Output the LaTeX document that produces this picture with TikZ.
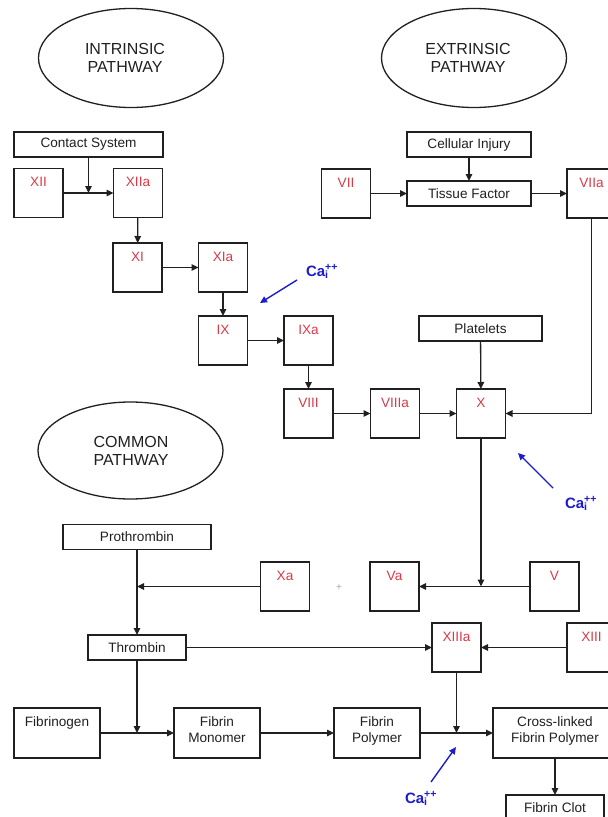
\documentclass[tikz,border=0pt]{standalone}
\usepackage{fontspec}
\setmainfont{Liberation Sans}
\usetikzlibrary{arrows.meta,shapes.geometric}
\definecolor{facred}{RGB}{218,58,72}
\definecolor{cablue}{RGB}{28,28,205}
\definecolor{ink}{RGB}{32,32,32}
\begin{document}
\begin{tikzpicture}[x=1pt,y=-1pt,
  every node/.style={inner sep=0pt,outer sep=0pt},
  boxfont/.style={font=\fontsize{13.6}{15.5}\selectfont},
  box/.style={draw=ink,line width=1.3pt,rectangle,boxfont,text=ink},
  bar/.style={box,minimum height=25pt,minimum width=#1},
  toplab/.style={anchor=north,yshift=-9pt,boxfont,align=center},
  factor/.style={box,minimum width=49pt,minimum height=49pt,
    label={[toplab,text=facred]north:#1}},
  tbox/.style={box,minimum width=86pt,minimum height=50pt,
    label={[toplab,text=ink]north:#1}},
  path/.style={draw=ink,ellipse,line width=1.3pt,minimum width=185pt,minimum height=99pt},
  pathtxt/.style={font=\fontsize{16}{18.5}\selectfont,align=center,text=ink},
  conn/.style={draw=ink,line width=1.3pt,-{Triangle[length=7pt,width=6.5pt]}},
  calbl/.style={font=\fontsize{15}{17}\selectfont\bfseries,text=cablue,anchor=base west},
  caarrow/.style={draw=cablue,line width=1.4pt,-{Triangle[length=7pt,width=6.5pt]}}
]
\fill[white] (0,0) rectangle (608,817);
\useasboundingbox (0,0) rectangle (608,817);

% pathway headings
\node[path] (intr) at (131,58) {};
\node[pathtxt] (intrtxt) at (125,58) {INTRINSIC\\PATHWAY};
\node[path] (extr) at (474,58) {};
\node[pathtxt] (extrtxt) at (468,58) {EXTRINSIC\\PATHWAY};
\node[path,minimum height=97pt] (comm) at (130.5,450.5) {};
\node[pathtxt] (commtxt) at (131,451) {COMMON\\PATHWAY};

% intrinsic pathway
\node[bar=149pt] (contact) at (88.5,144.5) {Contact System};
\node[factor=XII] (xii) at (38.5,193) {};
\node[factor=XIIa] (xiia) at (138,193) {};
\node[factor=XI] (xi) at (137.5,267.5) {};
\node[factor=XIa] (xia) at (223,267.5) {};
\node[factor=IX] (ix) at (223,340.5) {};
\node[factor=IXa] (ixa) at (308.5,340.5) {};
\node[factor=VIII] (viii) at (308.5,413.5) {};
\node[factor=VIIIa] (viiia) at (395,413.5) {};
\node[factor=X] (x) at (481,413.5) {};
\node[bar=123pt] (platelets) at (480.5,328.5) {Platelets};

% extrinsic pathway
\node[bar=124pt] (cellular) at (469,144.5) {Cellular Injury};
\node[bar=124pt] (tissue) at (469,193.5) {Tissue Factor};
\node[factor=VII] (vii) at (346,193.5) {};
\node[factor=VIIa] (viia) at (591.5,193.5) {};

% common pathway
\node[bar=148pt] (prothrombin) at (137,537) {Prothrombin};
\node[factor=Xa] (xa) at (285,586.5) {};
\node[text=black!35,font=\fontsize{10}{12}\selectfont] (plus) at (339,588) {+};
\node[factor=Va] (va) at (394.5,586.5) {};
\node[factor=V] (v) at (554.5,586.5) {};
\node[bar=98pt] (thrombin) at (137,647.5) {Thrombin};
\node[factor=XIIIa] (xiiia) at (456.5,647.5) {};
\node[factor=XIII] (xiii) at (591.5,647.5) {};
\node[tbox=Fibrinogen] (fibrinogen) at (57,733) {};
\node[tbox={Fibrin\\Monomer}] (monomer) at (217,733) {};
\node[tbox={Fibrin\\Polymer}] (polymer) at (377,733) {};
\node[tbox={Cross-linked\\Fibrin Polymer},minimum width=124pt] (crosslinked) at (555,733) {};
\node[bar=98pt] (clot) at (555,807.5) {Fibrin Clot};

% calcium labels
\node[calbl] (ca1) at (306,276) {Ca\rlap{\textsubscript{i}}\textsuperscript{++}};
\node[calbl] (ca2) at (565,508) {Ca\rlap{\textsubscript{i}}\textsuperscript{++}};
\node[calbl] (ca3) at (405,803) {Ca\rlap{\textsubscript{i}}\textsuperscript{++}};

% junction points on connectors
\coordinate (jc) at (88.5,193);
\coordinate (jp) at (137,586.5);
\coordinate (jv) at (481,586.5);
\coordinate (jf) at (137,733);
\coordinate (jx) at (456.5,733);
\coordinate (ca1s) at (297,280);
\coordinate (ca1t) at (260,303);
\coordinate (ca2s) at (553,488);
\coordinate (ca2t) at (518,453);
\coordinate (ca3s) at (431,782);
\coordinate (ca3t) at (456,747);

% intrinsic connectors
\draw[conn] (xii) -- (xiia);
\draw[conn] (contact) -- (jc);
\draw[conn] (xiia) -- (xi);
\draw[conn] (xi) -- (xia);
\draw[conn] (xia) -- (ix);
\draw[conn] (ix) -- (ixa);
\draw[conn] (ixa) -- (viii);
\draw[conn] (viii) -- (viiia);
\draw[conn] (viiia) -- (x);
\draw[conn] (platelets) -- (x);

% extrinsic connectors
\draw[conn] (cellular) -- (tissue);
\draw[conn] (vii) -- (tissue);
\draw[conn] (tissue) -- (viia);
\draw[conn] (viia.south) |- (x.east);

% common connectors
\draw[conn] (prothrombin) -- (thrombin);
\draw[conn] (xa) -- (jp);
\draw[conn] (x) -- (jv);
\draw[conn] (v) -- (va);
\draw[conn] (thrombin) -- (xiiia);
\draw[conn] (xiii) -- (xiiia);
\draw[conn] (thrombin) -- (jf);
\draw[conn] (fibrinogen) -- (monomer);
\draw[conn] (monomer) -- (polymer);
\draw[conn] (polymer) -- (crosslinked);
\draw[conn] (xiiia) -- (jx);
\draw[conn] (crosslinked) -- (clot);

% calcium arrows
\draw[caarrow] (ca1s) -- (ca1t);
\draw[caarrow] (ca2s) -- (ca2t);
\draw[caarrow] (ca3s) -- (ca3t);
\end{tikzpicture}
\end{document}
